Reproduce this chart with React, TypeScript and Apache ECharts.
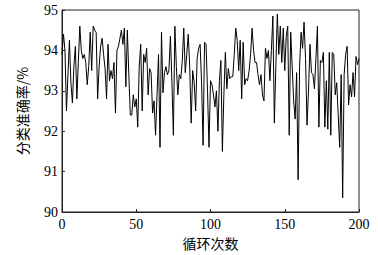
import React, { useEffect, useRef } from "react";
import * as echarts from "echarts";

const accuracy: number[] = [
  93.9, 94.4, 94.0, 92.5, 93.4, 94.25, 93.2, 92.7, 93.6, 94.1,
  92.8, 93.7, 94.6, 94.0, 93.8, 93.9, 93.7, 93.15, 93.6, 94.45,
  93.5, 94.6, 94.5, 94.45, 92.8, 93.6, 94.1, 94.3, 93.9, 93.55,
  92.8, 94.15, 93.25, 93.5, 93.3, 93.7, 92.45, 94.0, 94.1, 94.3,
  94.5, 94.15, 94.55, 93.1, 94.5, 93.4, 92.4, 92.4, 92.9, 92.6,
  92.8, 92.1, 93.6, 94.15, 92.5, 93.9, 93.7, 94.05, 92.9, 93.55,
  93.45, 92.45, 92.75, 91.9, 92.9, 93.9, 91.6, 94.45, 92.95, 93.45,
  93.6, 93.4, 93.5, 94.35, 93.25, 91.9, 94.6, 93.6, 92.9, 93.4,
  93.3, 93.75, 94.55, 93.45, 93.9, 94.4, 93.6, 92.2, 93.5, 93.2,
  92.5, 93.8, 94.05, 94.15, 93.2, 91.65, 94.2, 94.15, 93.0, 91.6,
  93.25, 93.15, 92.9, 92.6, 93.0, 92.0, 93.25, 93.75, 91.5, 92.9,
  93.95, 93.05, 93.55, 93.3, 93.35, 93.35, 93.9, 94.55, 94.25, 93.5,
  94.25, 92.8, 94.2, 93.15, 93.3, 93.25, 93.5, 93.9, 94.55, 94.0,
  93.7, 93.7, 93.4, 93.15, 93.4, 92.9, 92.75, 94.05, 93.8, 94.0,
  93.25, 94.0, 94.85, 92.2, 93.6, 94.9, 93.9, 94.6, 93.7, 94.55,
  93.5, 94.35, 94.6, 91.9, 94.45, 93.6, 92.75, 92.3, 93.45, 90.8,
  93.6, 94.45, 94.05, 94.7, 93.8, 92.15, 93.0, 94.15, 93.45, 93.4,
  93.05, 93.8, 94.6, 92.1, 93.75, 93.7, 93.95, 92.1, 93.25, 92.05,
  93.95, 91.9, 93.95, 93.9, 92.9, 93.2, 92.4, 91.6, 93.4, 90.35,
  93.4, 93.9, 94.1, 92.65, 93.15, 92.85, 93.45, 92.85, 93.85, 93.65,
  93.8,
];

const xName = "循环次数";
const yName = "分类准确率/%";

const serif = '"Times New Roman", "Liberation Serif", "DejaVu Serif", serif';
const cjk = '"Noto Sans CJK SC", "Noto Sans CJK JP", sans-serif';

export default function App() {
  const ref = useRef<HTMLDivElement>(null);
  useEffect(() => {
    if (!ref.current) return;
    const chart = echarts.init(ref.current, null, { renderer: "svg" });
    const data = accuracy.map((v, i) => [i, v]);
    chart.setOption({
      animation: false,
      backgroundColor: "#fff",
      grid: {
        left: 62,
        right: 19,
        top: 10,
        bottom: 43,
        show: true,
        borderColor: "#222",
        borderWidth: 1,
        backgroundColor: "transparent",
      },
      xAxis: {
        type: "value",
        min: 0,
        max: 200,
        interval: 50,
        name: xName,
        nameLocation: "middle",
        nameGap: 24,
        nameTextStyle: { fontFamily: cjk, fontSize: 14, color: "#000", verticalAlign: "top" },
        axisLine: { show: true, lineStyle: { color: "#222", width: 1 } },
        axisTick: { show: true, inside: true, length: 3, lineStyle: { color: "#222" } },
        axisLabel: { fontFamily: serif, fontSize: 14, color: "#000", margin: 5 },
        splitLine: { show: false },
      },
      yAxis: {
        type: "value",
        min: 90,
        max: 95,
        interval: 1,
        name: yName,
        nameLocation: "middle",
        nameGap: 33,
        nameRotate: 90,
        nameTextStyle: { fontFamily: cjk, fontSize: 14, color: "#000" },
        axisLine: { show: true, lineStyle: { color: "#222", width: 1 } },
        axisTick: { show: true, inside: true, length: 3, lineStyle: { color: "#222" } },
        axisLabel: { fontFamily: serif, fontSize: 14, color: "#000", margin: 4 },
        splitLine: { show: false },
      },
      series: [
        {
          type: "line",
          data,
          showSymbol: false,
          symbol: "none",
          lineStyle: { color: "#000", width: 1 },
        },
      ],
    });
    return () => chart.dispose();
  }, []);
  return (
    <div
      ref={ref}
      style={{ position: "fixed", left: 0, top: 0, width: 378, height: 255 }}
    />
  );
}
